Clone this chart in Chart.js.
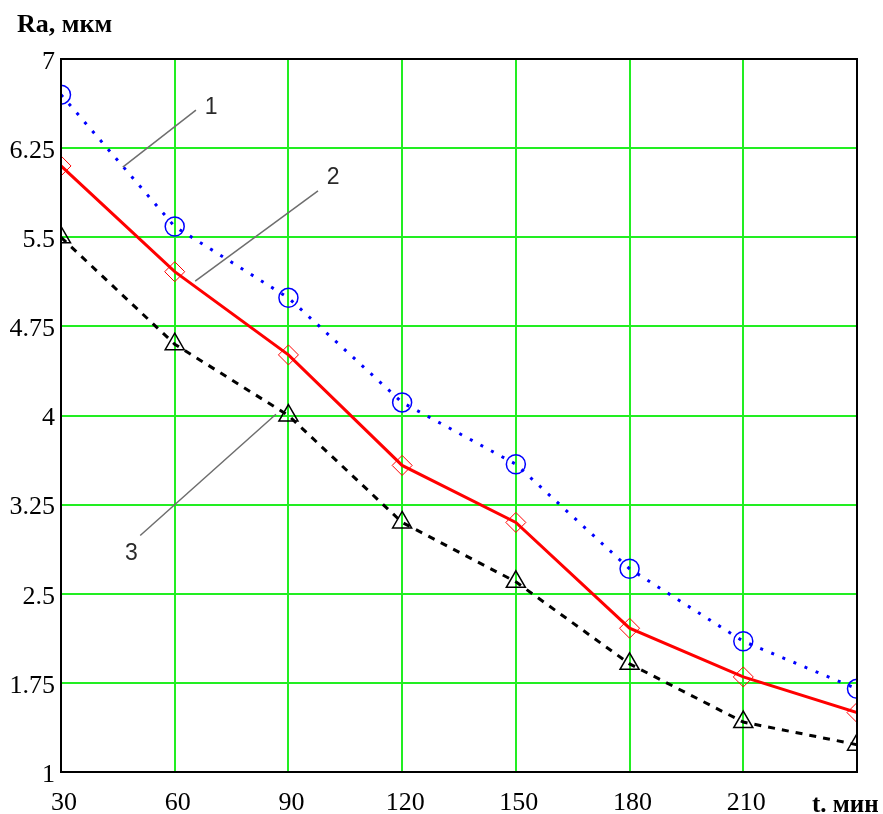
<!DOCTYPE html>
<html>
<head>
<meta charset="utf-8">
<script src="https://cdn.jsdelivr.net/npm/chart.js@4"></script>
<style>
html,body{margin:0;padding:0;background:#fff;}
#wrap{width:883px;height:814px;position:relative;}
</style>
</head>
<body>
<div id="wrap"><canvas id="c" width="883" height="814"></canvas></div>
<script>
const times = [30, 60, 90, 120, 150, 180, 210, 240];
const series1 = [6.70, 5.59, 4.99, 4.11, 3.59, 2.71, 2.10, 1.70];
const series2 = [6.10, 5.21, 4.51, 3.58, 3.10, 2.21, 1.80, 1.50];
const series3 = [5.50, 4.60, 4.00, 3.10, 2.60, 1.91, 1.42, 1.23];
const yTicks = [1, 1.75, 2.5, 3.25, 4, 4.75, 5.5, 6.25, 7];
const xTicks = [30, 60, 90, 120, 150, 180, 210, 240];
const yTitle = 'Ra, мкм';
const xTitle = 't. мин';
// leader lines for curve numbers, in data units
const leaderLabels = ['1', '2', '3'];
const leaderStart = [[46.3, 6.09], [65.4, 5.13], [50.9, 2.99]];
const leaderEnd = [[65.6, 6.57], [97.8, 5.89], [86.7, 4.01]];
const leaderText = [[69.6, 6.59], [101.8, 6.0], [48.6, 2.84]];

const pts = arr => times.map((t, i) => ({x: t, y: arr[i]}));

const overlay = {
  id: 'overlay',
  beforeDatasetsDraw(chart) {
    const ctx = chart.ctx, a = chart.chartArea;
    ctx.save();
    ctx.beginPath();
    ctx.rect(a.left, a.top, a.right - a.left, a.bottom - a.top);
    ctx.clip();
  },
  afterDatasetsDraw(chart) {
    const ctx = chart.ctx, a = chart.chartArea;
    ctx.restore();
    const xs = chart.scales.x, ys = chart.scales.y;
    ctx.save();
    ctx.strokeStyle = '#6e6e6e';
    ctx.lineWidth = 1.5;
    for (let i = 0; i < leaderLabels.length; i++) {
      ctx.beginPath();
      ctx.moveTo(xs.getPixelForValue(leaderStart[i][0]), ys.getPixelForValue(leaderStart[i][1]));
      ctx.lineTo(xs.getPixelForValue(leaderEnd[i][0]), ys.getPixelForValue(leaderEnd[i][1]));
      ctx.stroke();
    }
    ctx.fillStyle = '#2a2a2a';
    ctx.font = '23px "Liberation Sans", Arial, sans-serif';
    ctx.textAlign = 'center';
    ctx.textBaseline = 'middle';
    for (let i = 0; i < leaderLabels.length; i++) {
      ctx.fillText(leaderLabels[i], xs.getPixelForValue(leaderText[i][0]), ys.getPixelForValue(leaderText[i][1]));
    }
    ctx.strokeStyle = '#000';
    ctx.lineWidth = 2;
    ctx.strokeRect(a.left, a.top, a.right - a.left, a.bottom - a.top);
    ctx.fillStyle = '#000';
    ctx.textAlign = 'left';
    ctx.textBaseline = 'alphabetic';
    ctx.font = 'bold 26px "Liberation Serif", "Times New Roman", serif';
    ctx.fillText(yTitle, 17, 32);
    ctx.font = 'bold 25px "Liberation Serif", "Times New Roman", serif';
    ctx.fillText(xTitle, 812, 812);
    ctx.restore();
  }
};

new Chart(document.getElementById('c'), {
  type: 'line',
  data: {
    datasets: [
      {
        data: pts(series1), borderColor: '#0000ff', borderWidth: 3, borderDash: [3, 9],
        borderCapStyle: 'butt', pointStyle: 'circle', pointRadius: 9.5,
        pointBorderColor: '#0000ff', pointBackgroundColor: 'rgba(0,0,0,0)', pointBorderWidth: 1.5,
        tension: 0
      },
      {
        data: pts(series2), borderColor: '#ff0000', borderWidth: 3,
        pointStyle: 'rectRot', pointRadius: 10,
        pointBorderColor: '#ff0000', pointBackgroundColor: 'rgba(0,0,0,0)', pointBorderWidth: 1,
        tension: 0
      },
      {
        data: pts(series3), borderColor: '#000000', borderWidth: 3, borderDash: [7, 7],
        pointStyle: 'triangle', pointRadius: 11,
        pointBorderColor: '#000000', pointBackgroundColor: 'rgba(0,0,0,0)', pointBorderWidth: 1.5,
        tension: 0
      }
    ]
  },
  options: {
    responsive: false,
    animation: false,
    events: [],
    layout: {padding: {left: 0, right: 26, top: 59, bottom: 0}},
    plugins: {legend: {display: false}, tooltip: {enabled: false}},
    scales: {
      x: {
        type: 'linear', min: 30, max: 240,
        afterBuildTicks: s => { s.ticks = xTicks.map(v => ({value: v})); },
        afterFit: s => { s.height = 42; },
        grid: {color: '#22ee22', lineWidth: 2, drawTicks: false},
        border: {display: false},
        ticks: {
          padding: 16, color: '#000', maxRotation: 0, autoSkip: false, labelOffset: 3,
          font: {family: '"Liberation Serif", "Times New Roman", serif', size: 26},
          callback: v => (v === 240 ? '' : String(v))
        }
      },
      y: {
        type: 'linear', min: 1, max: 7,
        afterBuildTicks: s => { s.ticks = yTicks.map(v => ({value: v})); },
        afterFit: s => { s.width = 61; },
        grid: {color: '#22ee22', lineWidth: 2, drawTicks: false},
        border: {display: false},
        ticks: {
          padding: 6, color: '#000', autoSkip: false, labelOffset: 3,
          font: {family: '"Liberation Serif", "Times New Roman", serif', size: 26},
          callback: v => String(v)
        }
      }
    }
  },
  plugins: [overlay]
});
</script>
</body>
</html>
